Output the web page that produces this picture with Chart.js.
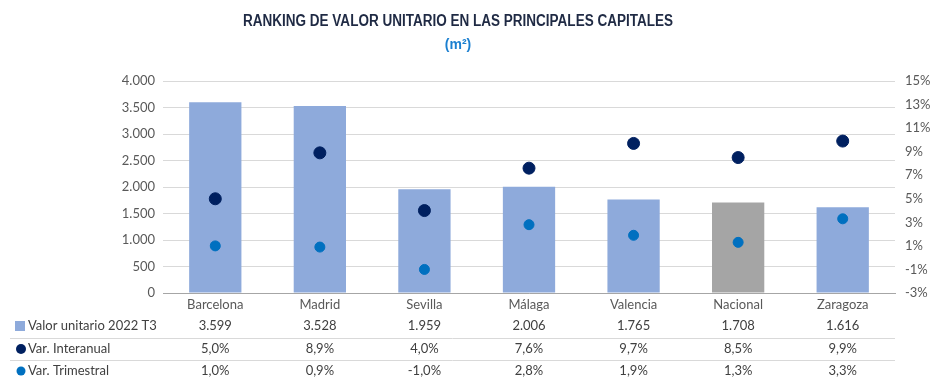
<!DOCTYPE html>
<html>
<head>
<meta charset="utf-8">
<script src="https://cdn.jsdelivr.net/npm/chart.js@4.4.0/dist/chart.umd.min.js"></script>
<style>
  html, body { margin: 0; padding: 0; background: #fff; }
  #wrap { width: 950px; height: 392px; position: relative; }
</style>
</head>
<body>
<div id="wrap"><canvas id="ranking"></canvas></div>
<script>
const ciudades = ['Barcelona', 'Madrid', 'Sevilla', 'Málaga', 'Valencia', 'Nacional', 'Zaragoza'];
const valorUnitario = [3599, 3528, 1959, 2006, 1765, 1708, 1616];
const varInteranual = [5.0, 8.9, 4.0, 7.6, 9.7, 8.5, 9.9];
const varTrimestral = [1.0, 0.9, -1.0, 2.8, 1.9, 1.3, 3.3];
const barColors = ['#8eaadb', '#8eaadb', '#8eaadb', '#8eaadb', '#8eaadb', '#a5a5a5', '#8eaadb'];

const fontTxt = "Lato, 'Open Sans', sans-serif";
const gris = '#595959';

function miles(v) {
  return String(Math.round(v)).replace(/\B(?=(\d{3})+(?!\d))/g, '.');
}
function pct(v) {
  return v.toFixed(1).replace('.', ',') + '%';
}

// draws text squeezed horizontally to a given width (title font is condensed)
function narrowText(ctx, txt, cx, cy, w) {
  const real = ctx.measureText(txt).width;
  const k = Math.min(1, w / real);
  ctx.save();
  ctx.translate(cx, cy);
  ctx.scale(k, 1);
  ctx.fillText(txt, 0, 0);
  ctx.restore();
}

// title + data table under the chart
const extras = {
  id: 'extras',
  afterDraw(chart) {
    const ctx = chart.ctx;
    const x = chart.scales.x;
    ctx.save();
    ctx.textAlign = 'center';
    ctx.textBaseline = 'middle';
    ctx.font = "bold 16px 'Liberation Sans', sans-serif";
    ctx.fillStyle = '#1f2a44';
    narrowText(ctx, 'RANKING DE VALOR UNITARIO EN LAS PRINCIPALES CAPITALES', 458, 22, 430);
    ctx.fillStyle = '#1a7fd0';
    ctx.font = "bold 14px 'Liberation Sans', sans-serif";
    narrowText(ctx, '(m²)', 458, 45, 28);

    const rows = [
      { label: 'Valor unitario 2022 T3', vals: valorUnitario.map(miles), y: 326 },
      { label: 'Var. Interanual', vals: varInteranual.map(pct), y: 349 },
      { label: 'Var. Trimestral', vals: varTrimestral.map(pct), y: 371 }
    ];
    ctx.strokeStyle = '#d9d9d9';
    ctx.lineWidth = 1;
    [338.5, 360.5].forEach(ly => {
      ctx.beginPath();
      ctx.moveTo(10, ly);
      ctx.lineTo(chart.chartArea.right, ly);
      ctx.stroke();
    });

    // legend markers
    ctx.fillStyle = '#8eaadb';
    ctx.fillRect(15, 321, 10, 10);
    ctx.fillStyle = '#002060';
    ctx.beginPath(); ctx.arc(21, 349, 5, 0, Math.PI * 2); ctx.fill();
    ctx.fillStyle = '#0070c0';
    ctx.beginPath(); ctx.arc(21, 371, 4.5, 0, Math.PI * 2); ctx.fill();

    ctx.font = '13px ' + fontTxt;
    ctx.fillStyle = '#404040';
    rows.forEach(r => {
      ctx.textAlign = 'left';
      ctx.fillText(r.label, 28, r.y);
      ctx.textAlign = 'center';
      r.vals.forEach((v, i) => ctx.fillText(v, x.getPixelForValue(i), r.y));
    });
    ctx.restore();
  }
};

new Chart(document.getElementById('ranking'), {
  data: {
    labels: ciudades,
    datasets: [
      {
        type: 'line',
        label: 'Var. Interanual',
        data: varInteranual,
        yAxisID: 'y1',
        showLine: false,
        pointRadius: 6,
        pointBackgroundColor: '#002060',
        pointBorderColor: '#002060',
        order: 0
      },
      {
        type: 'line',
        label: 'Var. Trimestral',
        data: varTrimestral,
        yAxisID: 'y1',
        showLine: false,
        pointRadius: 5,
        pointBackgroundColor: '#0070c0',
        pointBorderColor: '#0070c0',
        order: 1
      },
      {
        type: 'bar',
        label: 'Valor unitario 2022 T3',
        data: valorUnitario,
        yAxisID: 'y',
        backgroundColor: barColors,
        categoryPercentage: 1,
        barPercentage: 0.5,
        order: 2
      }
    ]
  },
  options: {
    responsive: true,
    maintainAspectRatio: false,
    animation: false,
    layout: { padding: { top: 81, right: 0, left: 0, bottom: 0 } },
    plugins: {
      legend: { display: false },
      tooltip: { enabled: false }
    },
    scales: {
      x: {
        grid: { display: false },
        border: { color: '#a6a6a6' },
        ticks: { color: gris, font: { family: fontTxt, size: 13 }, padding: -4, maxRotation: 0 },
        afterFit(s) { s.height = 99; }
      },
      y: {
        position: 'left',
        min: 0,
        max: 4000,
        ticks: {
          stepSize: 500,
          color: gris,
          font: { family: fontTxt, size: 13 },
          padding: 8,
          callback: v => miles(v)
        },
        grid: { color: '#d9d9d9', drawTicks: false },
        border: { display: false },
        afterFit(s) { s.width = 163; }
      },
      y1: {
        position: 'right',
        min: -3,
        max: 15,
        ticks: {
          stepSize: 2,
          color: gris,
          font: { family: fontTxt, size: 13 },
          padding: 10,
          callback: v => v + '%'
        },
        grid: { display: false, drawTicks: false },
        border: { display: false },
        afterFit(s) { s.width = 55; }
      }
    }
  },
  plugins: [extras]
});
</script>
</body>
</html>
